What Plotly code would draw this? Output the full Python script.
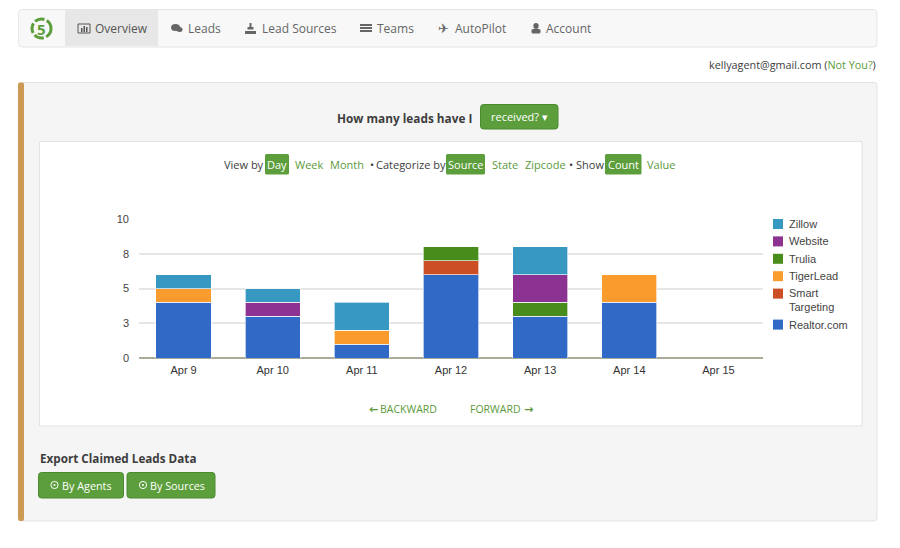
import plotly.graph_objects as go

days = ['Apr 9', 'Apr 10', 'Apr 11', 'Apr 12', 'Apr 13', 'Apr 14', 'Apr 15']
realtor = [4, 3, 1, 6, 3, 4, 0]
smart = [0, 0, 0, 1, 0, 0, 0]
tigerlead = [1, 0, 1, 0, 0, 2, 0]
trulia = [0, 0, 0, 1, 1, 0, 0]
website = [0, 1, 0, 0, 2, 0, 0]
zillow = [1, 1, 2, 0, 2, 0, 0]

tick_vals = [0, 2.5, 5, 7.5, 10]
tick_text = ['0', '3', '5', '8', '10']

series = [
    ('Realtor.com', realtor, '#3169c6'),
    ('Smart<br>Targeting', smart, '#cc4e25'),
    ('TigerLead', tigerlead, '#f99c2d'),
    ('Trulia', trulia, '#488c1c'),
    ('Website', website, '#8b3293'),
    ('Zillow', zillow, '#3799c2'),
]

W = 900
H = 548
GREEN = '#5c9e3c'
DARK_GREEN = '#4b8a2e'
LINK = '#5b9a3a'
TEXT = '#3d3d3d'
NAV = '#666666'
UI_FONT = 'Open Sans'

shapes = []
notes = []


def box(x0, y0, x1, y1, fill, line=None, r=0, lw=1):
    # pixel coordinates, origin top left
    if r:
        a, b, c, d = x0 / W, 1 - y0 / H, x1 / W, 1 - y1 / H
        rx, ry = r / W, r / H
        path = (f'M {a + rx} {b} L {c - rx} {b} Q {c} {b} {c} {b - ry} L {c} {d + ry} Q {c} {d} {c - rx} {d} '
                f'L {a + rx} {d} Q {a} {d} {a} {d + ry} L {a} {b - ry} Q {a} {b} {a + rx} {b} Z')
        shapes.append(dict(type='path', path=path, xref='paper', yref='paper', fillcolor=fill,
                           line=dict(color=line or fill, width=lw if line else 0), layer='below'))
    else:
        shapes.append(dict(type='rect', xref='paper', yref='paper', x0=x0 / W, x1=x1 / W, y0=1 - y0 / H, y1=1 - y1 / H,
                           fillcolor=fill, line=dict(color=line or fill, width=lw if line else 0), layer='below'))


def oval(cx, cy, rx, ry, fill, line=None, lw=0, dash='solid'):
    shapes.append(dict(type='circle', xref='paper', yref='paper', x0=(cx - rx) / W, x1=(cx + rx) / W,
                       y0=1 - (cy - ry) / H, y1=1 - (cy + ry) / H, fillcolor=fill,
                       line=dict(color=line or fill, width=lw, dash=dash), layer='below'))


def label(x, y, s, size=11, color=TEXT, anchor='left', bold=False, font=UI_FONT):
    notes.append(dict(x=x / W, y=1 - y / H, xref='paper', yref='paper', text=f'<b>{s}</b>' if bold else s,
                      showarrow=False, xanchor=anchor, yanchor='middle', align=anchor, borderpad=0,
                      font=dict(family=font, size=size, color=color)))


# top nav
box(18.5, 9.5, 877, 47, '#f8f8f8', '#e6e6e6', r=4)
box(65, 10, 158, 46, '#e7e7e7')
oval(41.5, 28.5, 9.5, 9.5, 'rgba(0,0,0,0)', '#5c9e3c', 3, '10px,2.5px')
label(41.5, 29, '5', 15, GREEN, 'center', True)
nav_items = [('Overview', 94), ('Leads', 187), ('Lead Sources', 261), ('Teams', 376), ('AutoPilot', 454), ('Account', 545)]
for name, x in nav_items:
    label(x, 28.5, name, 12, '#555555' if name == 'Overview' else NAV)

# nav icons
box(78, 24, 90, 33, '#e7e7e7', '#555555', lw=1)
for x, top in [(81, 28), (83.5, 26), (86, 27)]:
    box(x, top, x + 1.5, 32, '#555555')
oval(175.5, 27.5, 4.5, 3.5, '#666666')
oval(179.5, 29.5, 3, 2.5, '#666666')
box(245, 31, 256, 34, '#666666')
box(249.5, 23, 251.5, 28, '#666666')
box(247.5, 27, 253.5, 29.5, '#666666')
for top in [24, 27, 30]:
    box(360, top, 372, top + 2, '#666666')
label(443.5, 28.5, '\u2708', 13, '#666666', 'center', font='DejaVu Sans')
oval(536, 26, 2.7, 3, '#666666')
box(531.5, 29, 540.5, 33.5, '#666666', r=1.5)

label(877, 65, f'kellyagent@gmail.com (<span style="color:{LINK}">Not You?</span>)', 10.8, TEXT, 'right')

# main panel
box(18.5, 82.5, 877, 521, '#f5f5f5', '#e3e3e3', r=3)
box(18, 82.5, 24, 521, '#cd9a54', r=2)
label(335.5, 118, 'How many leads have I', 11.8, TEXT, bold=True)
box(480.5, 104.5, 558, 129, GREEN, DARK_GREEN, r=3)
label(519, 117, 'received? \u25be', 11, 'white', 'center')

# chart card
box(39.5, 141.5, 862, 426, 'white', '#e2e2e2')

controls = [('View by', 223, TEXT), ('Week', 293.5, LINK), ('Month', 328.5, LINK), ('\u2022', 369, TEXT),
            ('Categorize by', 375, TEXT), ('State', 490.5, LINK), ('Zipcode', 523.5, LINK), ('\u2022', 568, TEXT),
            ('Show', 575, TEXT), ('Value', 645.5, LINK)]
for name, x, color in controls:
    label(x, 164.5, name, 11, color)
active = [('Day', 265, 289), ('Source', 446, 485), ('Count', 605, 641.5)]
for name, x0, x1 in active:
    box(x0, 154, x1, 174.5, GREEN, r=1.5)
    label((x0 + x1) / 2, 164.5, name, 11, 'white', 'center')

label(368, 409, '\u2190', 11, LINK, bold=True, font='DejaVu Sans')
label(378.5, 409, 'BACKWARD', 10.5, LINK)
label(469, 409, 'FORWARD', 10.5, LINK)
label(523, 409, '\u2192', 11, LINK, bold=True, font='DejaVu Sans')

# export section
label(38.5, 458, 'Export Claimed Leads Data', 11.7, TEXT, bold=True)
buttons = [('By Agents', 38.5, 123.5), ('By Sources', 127, 215)]
for name, x0, x1 in buttons:
    box(x0, 472.5, x1, 498, GREEN, DARK_GREEN, r=3)
    oval(x0 + 16, 485, 3.6, 3.6, 'rgba(0,0,0,0)', 'white', 1)
    oval(x0 + 16, 485, 1, 1, 'white')
    label(x0 + 22, 485, name, 10.8, 'white')

# legend, top row is the last trace of the stack
legend_y = 224
for name, values, color in reversed(series):
    lines = name.count('<br>')
    box(773, legend_y - 5, 783, legend_y + 5, color)
    label(787.5, legend_y + lines * 6.8, name, 11, '#444444', font='Liberation Sans')
    legend_y += 17.4 + lines * 13.6

fig = go.Figure()
for name, values, color in series:
    # no outline on empty segments, it would cut the baseline
    fig.add_trace(go.Bar(x=days, y=values, name=name, marker_color=color, showlegend=False,
                         marker_line=dict(color='rgba(255,255,255,0.65)', width=[1 if v else 0 for v in values])))

fig.update_layout(
    barmode='stack',
    bargap=0.38,
    width=W,
    height=H,
    margin=dict(l=0, r=0, t=0, b=0),
    paper_bgcolor='white',
    plot_bgcolor='rgba(0,0,0,0)',
    font=dict(family='Liberation Sans', size=11, color='#444444'),
    shapes=shapes,
    annotations=notes,
    xaxis=dict(domain=[139 / W, 763 / W], showgrid=False, ticks='', tickfont=dict(size=11, color='#333333'),
               showline=False, zeroline=False, automargin=False, ticklabelstandoff=4),
    yaxis=dict(domain=[1 - 358 / H, 1 - 219 / H], range=[0, 10], tickvals=tick_vals, ticktext=tick_text,
               gridcolor='#e6e6e6', gridwidth=1.5, zeroline=True, zerolinecolor='#aaaa99', zerolinewidth=1.5,
               ticks='', tickfont=dict(size=11, color='#444444'), automargin=False, ticklabelstandoff=9),
)

fig.write_html('out.html', config=dict(displayModeBar=False), post_script="document.body.style.margin='0';")
